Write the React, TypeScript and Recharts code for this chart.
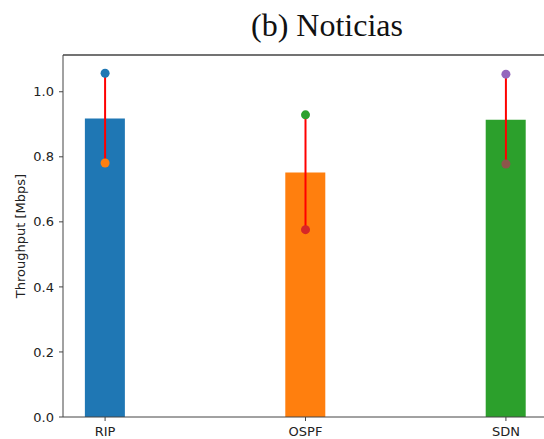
import React from 'react';
import {
  ComposedChart,
  Bar,
  Cell,
  Scatter,
  XAxis,
  YAxis,
  ReferenceLine,
} from 'recharts';

// protocols and their mean throughput
const protocols = ['RIP', 'OSPF', 'SDN'];
const meanThroughput = [0.918, 0.752, 0.914];
const maxThroughput = [1.057, 0.929, 1.054];
const minThroughput = [0.781, 0.576, 0.778];

const barColors = ['#1f77b4', '#ff7f0e', '#2ca02c'];
const maxColors = ['#1f77b4', '#2ca02c', '#9467bd'];
const minColors = ['#ff7f0e', '#d62728', '#8c564b'];

const yTicks = [0, 0.2, 0.4, 0.6, 0.8, 1.0];
const Y_MAX = 1.113;

const data = protocols.map((name, i) => ({
  x: i,
  name,
  mean: meanThroughput[i],
  max: maxThroughput[i],
  min: minThroughput[i],
}));

const font = '"DejaVu Sans", sans-serif';
const spine = '#444';

export default function App() {
  return (
    <div style={{ position: 'absolute', left: 0, top: 0, width: 544, height: 439, overflow: 'hidden', background: '#fff' }}>
      <div
        style={{
          position: 'absolute',
          left: 251,
          top: 7,
          fontFamily: '"Liberation Serif", "Times New Roman", serif',
          fontSize: 32,
          color: '#111',
          whiteSpace: 'nowrap',
        }}
      >
        (b) Noticias
      </div>
      <ComposedChart
        width={552}
        height={439}
        data={data}
        margin={{ top: 55, right: 4, bottom: 0, left: 0 }}
      >
        <XAxis
          dataKey="x"
          type="number"
          domain={[-0.21, 2.21]}
          ticks={[0, 1, 2]}
          tickFormatter={(v: number) => protocols[v] ?? ''}
          allowDataOverflow
          height={22}
          tickSize={4}
          tickMargin={6}
          stroke={spine}
          tick={{ fill: '#222', fontSize: 13, fontFamily: font }}
        />
        <YAxis
          type="number"
          domain={[0, Y_MAX]}
          ticks={yTicks}
          allowDataOverflow
          width={63}
          tickSize={4}
          tickMargin={5}
          stroke={spine}
          tickFormatter={(v: number) => v.toFixed(1)}
          tick={{ fill: '#222', fontSize: 13, fontFamily: font }}
          label={{
            value: 'Throughput [Mbps]',
            angle: -90,
            position: 'insideLeft',
            dx: 15,
            dy: 0,
            style: { textAnchor: 'middle', fill: '#222', fontSize: 13, fontFamily: font },
          }}
        />
        <ReferenceLine y={Y_MAX} stroke={spine} strokeWidth={1.5} />
        <Bar dataKey="mean" barSize={40} isAnimationActive={false}>
          {data.map((d, i) => (
            <Cell key={d.name} fill={barColors[i]} />
          ))}
        </Bar>
        {data.map((d) => (
          <ReferenceLine
            key={`rng-${d.name}`}
            segment={[
              { x: d.x, y: d.min },
              { x: d.x, y: d.max },
            ]}
            stroke="#ff0000"
            strokeWidth={2}
          />
        ))}
        <Scatter
          dataKey="max"
          isAnimationActive={false}
          shape={(p: any) => <circle cx={p.cx} cy={p.cy} r={4.5} fill={p.fill} />}
        >
          {data.map((d, i) => (
            <Cell key={d.name} fill={maxColors[i]} />
          ))}
        </Scatter>
        <Scatter
          dataKey="min"
          isAnimationActive={false}
          shape={(p: any) => <circle cx={p.cx} cy={p.cy} r={4.5} fill={p.fill} />}
        >
          {data.map((d, i) => (
            <Cell key={d.name} fill={minColors[i]} />
          ))}
        </Scatter>
      </ComposedChart>
    </div>
  );
}
